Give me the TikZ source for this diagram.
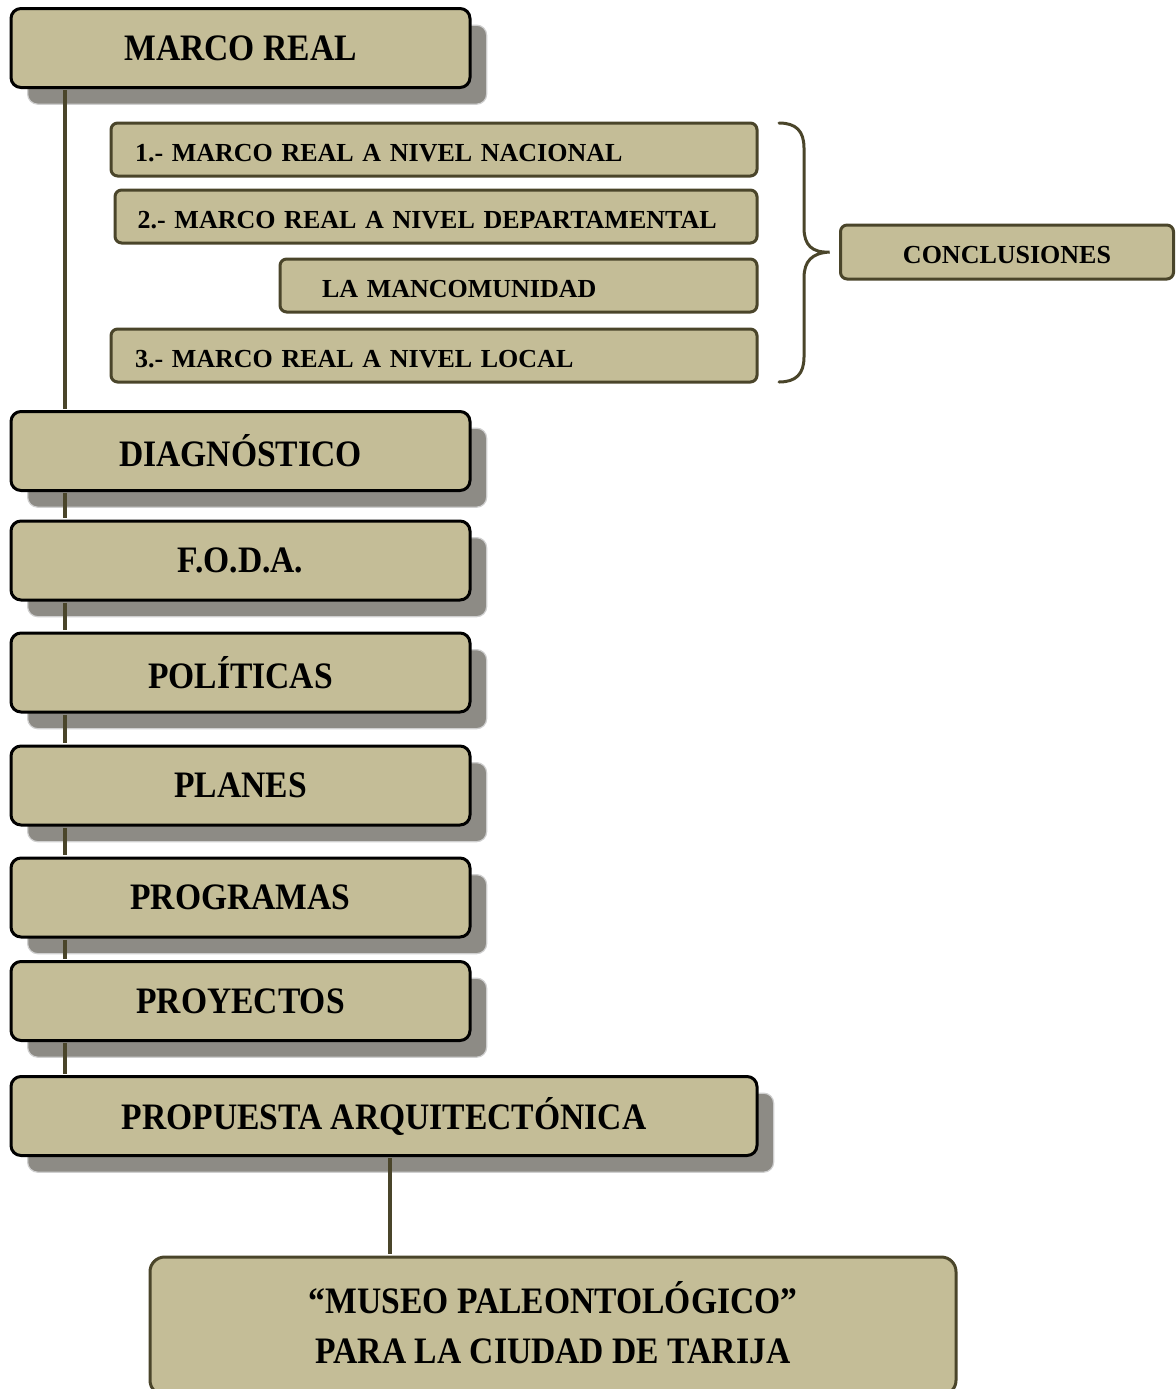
\documentclass[tikz,border=0pt]{standalone}
\usepackage{fontspec}
\setmainfont{Liberation Serif}
\newfontfamily\deco[FakeStretch=0.9]{Liberation Serif}
\usetikzlibrary{shadows}
\definecolor{tan}{HTML}{C4BD97}
\definecolor{olive}{HTML}{4A452A}
\definecolor{shadowgray}{HTML}{8D8B85}
\definecolor{shadowedge}{HTML}{CFCFCF}
\tikzset{
  mainbox/.style={draw=black, line width=2.25pt, fill=tan, rounded corners=7.5pt,
    minimum height=59.25pt, inner sep=0pt,
    font={\deco\bfseries\fontsize{28}{32}\selectfont},
    general shadow={fill=shadowgray, draw=shadowedge, line width=0.9pt,
      shadow xshift=12.5pt, shadow yshift=-12.5pt}},
  subbox/.style={draw=olive, line width=2.25pt, fill=tan, rounded corners=5pt,
    minimum height=39.75pt, inner ysep=0pt, align=left,
    text height=17.6pt, text depth=0pt,
    font={\bfseries\fontsize{19.5}{22}\selectfont}},
  finalbox/.style={draw=olive, line width=2.25pt, fill=tan, rounded corners=11pt,
    minimum width=604.5pt, minimum height=103.5pt, inner sep=0pt, align=center,
    text depth=6pt,
    font={\deco\bfseries\fontsize{28}{37.5}\selectfont}},
  link/.style={draw=olive, line width=3.6pt, shorten <=1.1pt, shorten >=1.1pt},
  bracestyle/.style={draw=olive, line width=2.25pt, line cap=round}
}
\begin{document}
\begin{tikzpicture}[x=0.75pt,y=-0.75pt]
\clip (0,0) rectangle (1175,1389);
\fill[white] (0,0) rectangle (1175,1389);
\coordinate (spine) at (65,0);
\coordinate (drop) at (390,0);

% main chain
\node[mainbox, minimum width=344.25pt] (marco) at (240.5,48) {MARCO REAL};
\node[mainbox, minimum width=344.25pt] (diag) at (240.5,451) {DIAGNÓSTICO};
\node[mainbox, minimum width=344.25pt] (foda) at (240.5,560.5) {F.O.D.A.};
\node[mainbox, minimum width=344.25pt] (pol) at (240.5,672.5) {POLÍTICAS};
\node[mainbox, minimum width=344.25pt] (planes) at (240.5,785.5) {PLANES};
\node[mainbox, minimum width=344.25pt] (prog) at (240.5,897.5) {PROGRAMAS};
\node[mainbox, minimum width=344.25pt] (proy) at (240.5,1001) {PROYECTOS};
\node[mainbox, minimum width=559.5pt] (prop) at (384,1116) {PROPUESTA ARQUITECTÓNICA};

% sub boxes
\node[subbox, text width=448.5pt, inner xsep=18pt] (s1) at (434,149.5) {1.- MARCO REAL A NIVEL NACIONAL};
\node[subbox, text width=447.5pt, inner xsep=17pt] (s2) at (436,216.5) {2.- MARCO REAL A NIVEL DEPARTAMENTAL};
\node[subbox, text width=294.75pt, inner xsep=31.5pt] (s3) at (518.5,285.5) {LA MANCOMUNIDAD};
\node[subbox, text width=448.5pt, inner xsep=18pt] (s4) at (434,355.5) {3.- MARCO REAL A NIVEL LOCAL};

% conclusions
\node[subbox, align=center, minimum width=249.75pt, minimum height=40.5pt, inner xsep=0pt] (conc) at (1007,252) {CONCLUSIONES};

% final box
\node[finalbox] (museo) at (553,1326) {“MUSEO PALEONTOLÓGICO”\\PARA LA CIUDAD DE TARIJA};

% connectors
\draw[link] (marco.south -| spine) -- (diag.north -| spine);
\draw[link] (diag.south -| spine) -- (foda.north -| spine);
\draw[link] (foda.south -| spine) -- (pol.north -| spine);
\draw[link] (pol.south -| spine) -- (planes.north -| spine);
\draw[link] (planes.south -| spine) -- (prog.north -| spine);
\draw[link] (prog.south -| spine) -- (proy.north -| spine);
\draw[link] (proy.south -| spine) -- (prop.north -| spine);
\draw[link] (prop.south -| drop) -- (museo.north -| drop);

% brace
\coordinate (tip) at ([xshift=-7pt]conc.west);
\draw[bracestyle] (779,123) .. controls (796,123) and (804,131) .. (804,148)
  -- (804,228) .. controls (804,245) and (812,253) .. (tip)
  .. controls (812,253) and (804,261) .. (804,278)
  -- (804,357) .. controls (804,374) and (796,382) .. (779,382);
\end{tikzpicture}
\end{document}
